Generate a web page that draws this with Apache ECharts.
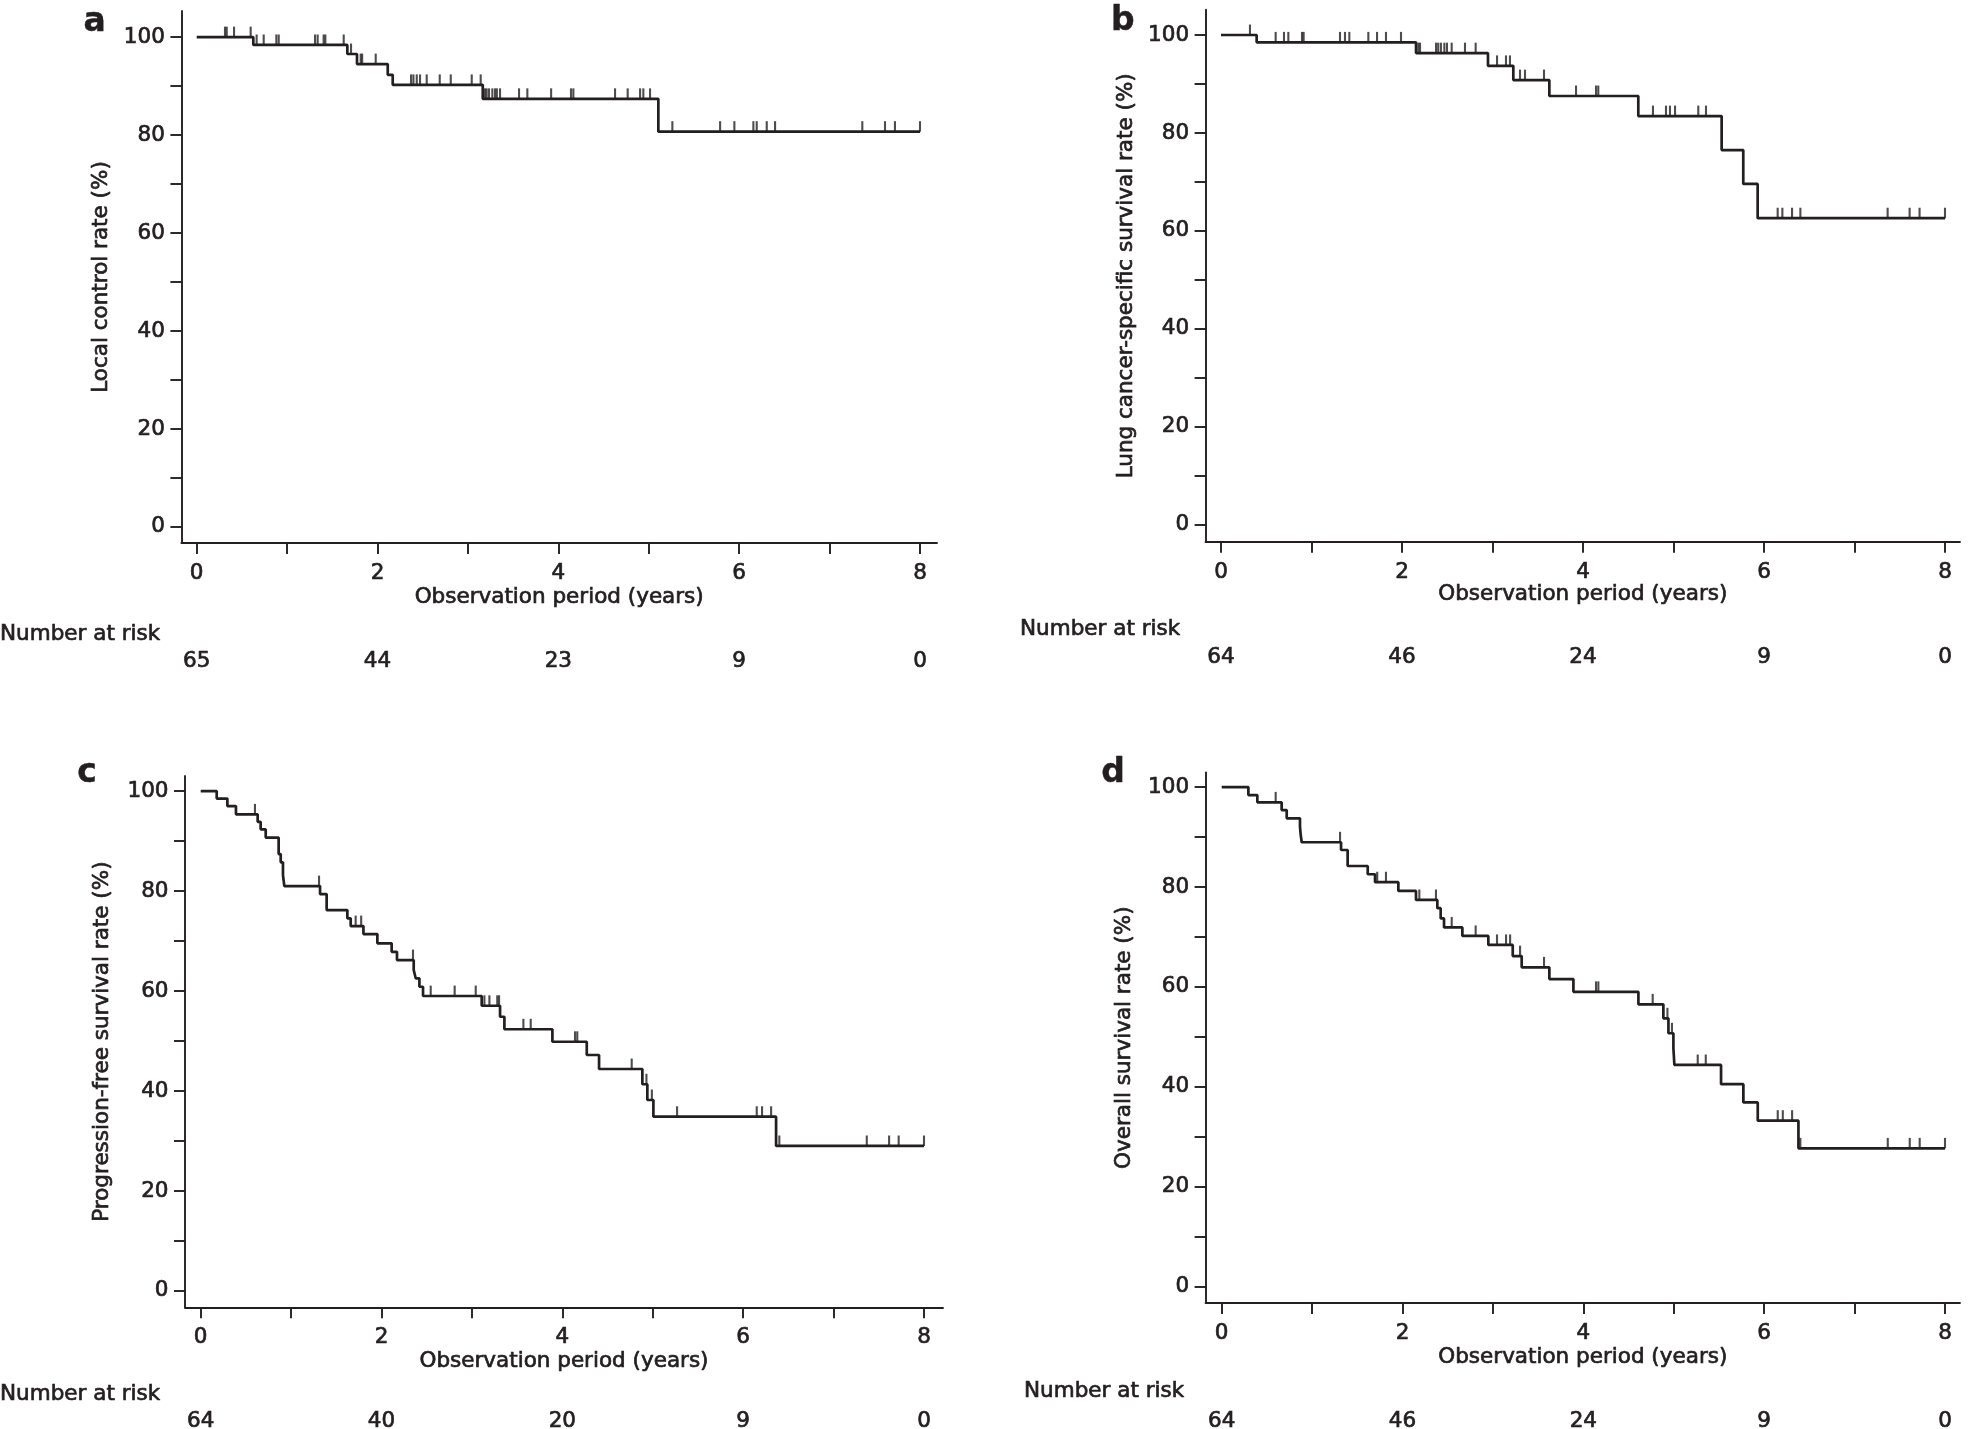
<!DOCTYPE html>
<html>
<head>
<meta charset="utf-8">
<script src="https://cdn.jsdelivr.net/npm/echarts@6/dist/echarts.min.js"></script>
<style>
html,body{margin:0;padding:0;background:#fff;}
#chart{width:1968px;height:1429px;}
</style>
</head>
<body>
<div id="chart"></div>
<script>
// ---------- shared axis data ----------
const timeTicks = [0, 1, 2, 3, 4, 5, 6, 7, 8];
const timeLabels = [0, 2, 4, 6, 8];
const rateTicks = [0, 10, 20, 30, 40, 50, 60, 70, 80, 90, 100];
const rateLabels = [0, 20, 40, 60, 80, 100];
const riskTimes = [0, 2, 4, 6, 8];

// ---------- a: local control ----------
const lcTimes = [0, 0.626, 1.666, 1.773, 2.113, 2.168, 3.164, 5.106, 8];
const lcRates = [100, 98.4, 96.55, 94.5, 92.3, 90.25, 87.4, 80.7, 80.7];
const lcCensor = [0.313, 0.332, 0.413, 0.597, 0.663, 0.741, 0.881, 0.907, 1.309, 1.338, 1.404, 1.423,
  1.626, 1.707, 1.814, 1.83, 1.98, 2.371, 2.397, 2.434, 2.47, 2.544, 2.688, 2.81, 3.042, 3.141,
  3.189, 3.207, 3.233, 3.27, 3.3, 3.32, 3.355, 3.565, 3.657, 3.92, 4.14, 4.166, 4.627, 4.767,
  4.904, 4.94, 5.014, 5.261, 5.789, 5.947, 6.157, 6.194, 6.305, 6.397, 7.362, 7.613, 7.723, 8.0];
const lcRisk = [65, 44, 23, 9, 0];

// ---------- b: lung cancer-specific survival ----------
const lcssTimes = [0, 0.394, 2.155, 2.95, 3.23, 3.628, 4.611, 5.532, 5.771, 5.93, 8];
const lcssRates = [100, 98.5, 96.3, 93.7, 90.8, 87.55, 83.45, 76.5, 69.6, 62.6, 62.6];
const lcssCensor = [0.32, 0.604, 0.696, 0.744, 0.895, 0.913, 1.315, 1.37, 1.418, 1.628, 1.724, 1.823,
  1.989, 2.18, 2.199, 2.376, 2.4, 2.43, 2.468, 2.497, 2.549, 2.696, 2.814, 3.05, 3.149, 3.193,
  3.304, 3.359, 3.569, 3.923, 4.144, 4.169, 4.773, 4.917, 4.961, 5.017, 5.274, 5.359, 6.151,
  6.203, 6.31, 6.402, 7.366, 7.609, 7.719, 8.0];
const lcssRisk = [64, 46, 24, 9, 0];

// ---------- c: progression-free survival ----------
const pfsTimes = [0, 0.177, 0.295, 0.39, 0.63, 0.663, 0.719, 0.862, 0.885, 0.91, 0.925, 1.32, 1.393,
  1.622, 1.659, 1.8, 1.954, 2.112, 2.171, 2.356, 2.378, 2.419, 2.459, 3.108, 3.311, 3.359, 3.89,
  4.27, 4.406, 4.885, 4.94, 5.007, 6.364, 8];
const pfsRates = [100, 98.5, 97.0, 95.35, 93.85, 92.35, 90.7, 87.4, 85.75, 83.2, 81.0, 79.4, 76.2,
  74.55, 73.0, 71.4, 69.55, 67.85, 66.2, 64.2, 62.55, 60.85, 59.0, 57.05, 54.85, 52.35, 49.85,
  47.2, 44.4, 41.35, 38.2, 34.85, 29.0, 29.0];
const pfsCensor = [0.6, 1.309, 1.714, 1.775, 2.348, 2.544, 2.809, 3.042, 3.138, 3.193, 3.28, 3.3,
  3.569, 3.65, 4.14, 4.165, 4.767, 4.93, 4.99, 5.269, 6.15, 6.209, 6.309, 6.4, 7.367, 7.614, 7.72, 8.0];
const pfsRisk = [64, 40, 20, 9, 0];

// ---------- d: overall survival ----------
const osTimes = [0, 0.295, 0.394, 0.663, 0.719, 0.866, 0.874, 0.885, 1.32, 1.393, 1.615, 1.696, 1.954,
  2.149, 2.385, 2.422, 2.459, 2.662, 2.949, 3.219, 3.318, 3.624, 3.89, 4.609, 4.885, 4.941, 4.996,
  5.007, 5.523, 5.77, 5.929, 6.379, 8];
const osRates = [100, 98.4, 96.95, 95.4, 93.75, 92.1, 90.4, 88.95, 87.4, 84.2, 82.55, 80.95, 79.2,
  77.4, 75.75, 73.7, 71.9, 70.2, 68.4, 66.15, 63.9, 61.55, 59.0, 56.5, 53.7, 50.7, 47.7, 44.35,
  40.5, 36.85, 33.2, 27.65, 27.65];
const osCensor = [0.597, 1.309, 1.72, 1.817, 2.186, 2.37, 2.544, 2.809, 3.045, 3.145, 3.19, 3.3, 3.565,
  4.14, 4.166, 4.767, 4.93, 4.98, 5.265, 5.354, 6.15, 6.206, 6.309, 6.4, 7.367, 7.61, 7.72, 8.0];
const osRisk = [64, 46, 24, 9, 0];

// ---------- texts ----------
const xTitle = 'Observation period (years)';
const riskTitle = 'Number at risk';

// ---------- layout (pixels) ----------
const FONT = 'DejaVu Sans';
const INK = '#231f20';
const FS = 21.5;
const HEAVY = 0.7;

const panels = [
  {letter: 'a', times: lcTimes, rates: lcRates, censor: lcCensor, risk: lcRisk, yTitle: 'Local control rate (%)',
   L: 181.4, R: 937, T: 11, B: 543, x0: 196.7, x8: 920, y100: 37.1, y0: 526.9,
   letterPos: [94.7, 22.3], yTitleX: 101.8, xTitleY: 597.7, narX: 0, narY: 634.2, riskY: 661},
  {letter: 'b', times: lcssTimes, rates: lcssRates, censor: lcssCensor, risk: lcssRisk, yTitle: 'Lung cancer-specific survival rate (%)',
   L: 1205.6, R: 1960, T: 9.8, B: 541.8, x0: 1221, x8: 1945, y100: 35, y0: 524.8,
   letterPos: [1122.8, 21.5], yTitleX: 1126.5, xTitleY: 594.9, narX: 1020, narY: 629.8, riskY: 657.4},
  {letter: 'c', times: pfsTimes, rates: pfsRates, censor: pfsCensor, risk: pfsRisk, yTitle: 'Progression-free survival rate (%)',
   L: 185, R: 943, T: 775.9, B: 1307.3, x0: 200.7, x8: 924, y100: 791.1, y0: 1290.9,
   letterPos: [87, 773.7], yTitleX: 102.5, xTitleY: 1361.3, narX: 0, narY: 1394.6, riskY: 1421.3},
  {letter: 'd', times: osTimes, rates: osRates, censor: osCensor, risk: osRisk, yTitle: 'Overall survival rate (%)',
   L: 1205.6, R: 1960, T: 772.4, B: 1302.9, x0: 1221.7, x8: 1945, y100: 787.1, y0: 1286.4,
   letterPos: [1113, 773.7], yTitleX: 1124.7, xTitleY: 1357, narX: 1024, narY: 1391, riskY: 1421.3}
];

function levelAt(times, rates, t) {
  let v = rates[0];
  for (let i = 0; i < times.length; i++) { if (times[i] <= t) v = rates[i]; }
  return v;
}

const grids = [], xAxes = [], yAxes = [], series = [];
panels.forEach((p, i) => {
  grids.push({left: p.L, top: p.T, width: p.R - p.L, height: p.B - p.T, containLabel: false});
  const xpu = (p.x8 - p.x0) / 8;
  const ypu = (p.y0 - p.y100) / 100;
  const axisLine = {show: true, onZero: false, lineStyle: {color: INK, width: 1.9}};
  const tick = {show: true, inside: false, length: 11, lineStyle: {color: INK, width: 1.9}};
  const lab = {color: INK, fontFamily: FONT, fontSize: FS, textBorderColor: INK, textBorderWidth: HEAVY};
  xAxes.push({
    type: 'value', gridIndex: i,
    min: (p.L - p.x0) / xpu, max: (p.R - p.x0) / xpu,
    axisLine: axisLine, splitLine: {show: false},
    axisTick: Object.assign({customValues: timeTicks}, tick),
    axisLabel: Object.assign({customValues: timeLabels, margin: 19.5}, lab)
  });
  yAxes.push({
    type: 'value', gridIndex: i,
    min: (p.y0 - p.B) / ypu, max: (p.y0 - p.T) / ypu,
    axisLine: axisLine, splitLine: {show: false},
    axisTick: Object.assign({customValues: rateTicks}, tick),
    axisLabel: Object.assign({customValues: rateLabels, margin: 16.5}, lab)
  });
  series.push({
    type: 'line', xAxisIndex: i, yAxisIndex: i, step: 'end', showSymbol: false, symbol: 'none',
    data: p.times.map((t, k) => [t, p.rates[k]]),
    lineStyle: {color: INK, width: 2.7}, silent: true, z: 3
  });
  series.push({
    type: 'scatter', xAxisIndex: i, yAxisIndex: i,
    data: p.censor.map(t => [t, levelAt(p.times, p.rates, t)]),
    symbol: 'rect', symbolSize: [2.1, 10.5], symbolOffset: [0, -5.2],
    itemStyle: {color: INK}, silent: true, z: 4
  });
});

const chart = echarts.init(document.getElementById('chart'), null, {renderer: 'canvas'});
chart.setOption({
  animation: false,
  backgroundColor: '#ffffff',
  grid: grids, xAxis: xAxes, yAxis: yAxes, series: series
});

const txt = (x, y, text, opts) => Object.assign({
  type: 'text', x: x, y: y, silent: true,
  style: Object.assign({text: text, fill: INK, stroke: INK, lineWidth: HEAVY,
    font: FS + 'px "' + FONT + '"', align: 'center', verticalAlign: 'middle'}, (opts && opts.style) || {})
}, (opts && opts.el) || {});

const graphics = [];
panels.forEach((p, i) => {
  graphics.push(txt(p.letterPos[0], p.letterPos[1], p.letter, {style: {font: 'bold 33px "' + FONT + '"', lineWidth: 0.4}}));
  graphics.push(txt(p.yTitleX, (p.T + p.B) / 2, p.yTitle, {el: {rotation: Math.PI / 2}}));
  graphics.push(txt((p.L + p.R) / 2, p.xTitleY, xTitle));
  graphics.push(txt(p.narX, p.narY, riskTitle, {style: {align: 'left'}}));
  riskTimes.forEach((t, k) => {
    const px = chart.convertToPixel({xAxisIndex: i}, t);
    graphics.push(txt(px, p.riskY, String(p.risk[k])));
  });
});
chart.setOption({graphic: graphics});
</script>
</body>
</html>
